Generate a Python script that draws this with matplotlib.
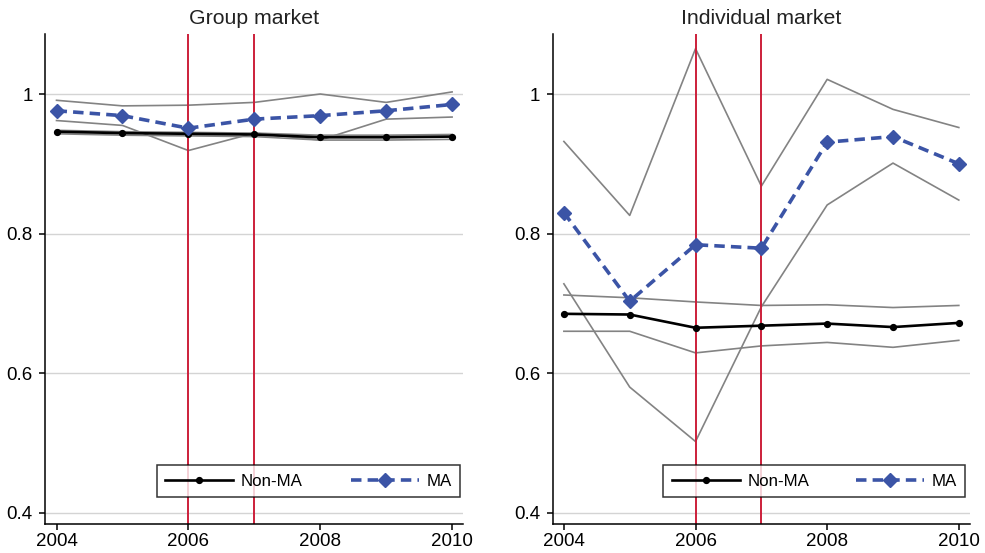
import matplotlib
matplotlib.use("Agg")
import matplotlib.pyplot as plt

plt.rcParams['font.family'] = ['Liberation Sans', 'DejaVu Sans']

years = [2004, 2005, 2006, 2007, 2008, 2009, 2010]
event_years = [2006, 2007]
titles = ["Group market", "Individual market"]

# Group market
grp_nonma = [0.946, 0.944, 0.943, 0.942, 0.938, 0.938, 0.939]
grp_nonma_hi = [0.948, 0.946, 0.945, 0.944, 0.941, 0.941, 0.942]
grp_nonma_lo = [0.943, 0.941, 0.940, 0.939, 0.934, 0.934, 0.935]
grp_ma = [0.976, 0.969, 0.951, 0.964, 0.969, 0.976, 0.985]
grp_ma_hi = [0.991, 0.983, 0.984, 0.988, 1.000, 0.988, 1.003]
grp_ma_lo = [0.962, 0.955, 0.919, 0.944, 0.934, 0.964, 0.967]

# Individual market
ind_nonma = [0.685, 0.684, 0.665, 0.668, 0.671, 0.666, 0.672]
ind_nonma_hi = [0.712, 0.708, 0.702, 0.697, 0.698, 0.694, 0.697]
ind_nonma_lo = [0.660, 0.660, 0.629, 0.639, 0.644, 0.637, 0.647]
ind_ma = [0.830, 0.703, 0.784, 0.779, 0.931, 0.939, 0.900]
ind_ma_hi = [0.932, 0.826, 1.065, 0.868, 1.021, 0.978, 0.952]
ind_ma_lo = [0.728, 0.580, 0.502, 0.695, 0.841, 0.901, 0.848]

yticks = [0.4, 0.6, 0.8, 1.0]
ytick_labels = ["0.4", "0.6", "0.8", "1"]
xticks = [2004, 2006, 2008, 2010]

panels = [
    (grp_nonma, grp_nonma_hi, grp_nonma_lo, grp_ma, grp_ma_hi, grp_ma_lo),
    (ind_nonma, ind_nonma_hi, ind_nonma_lo, ind_ma, ind_ma_hi, ind_ma_lo),
]

BLUE = '#3b54a6'
RED = '#cc1f3a'
GRAY = '#838383'

fig = plt.figure(figsize=(9.85, 5.53), dpi=100)
W, H = 985, 553
axes_px = [(45.3, 463.3), (552.7, 970.0)]
legend_px = [(157, 460), (663.3, 965.3)]
top_px, bot_px = 34, 524

for i, (x0, x1) in enumerate(axes_px):
    ax = fig.add_axes([x0 / W, (H - bot_px) / H, (x1 - x0) / W, (bot_px - top_px) / H])
    nm, nmh, nml, ma, mah, mal = panels[i]
    for s in (nmh, nml, mah, mal):
        ax.plot(years, s, color=GRAY, lw=1.2, zorder=2)
    for ey in event_years:
        ax.axvline(ey, color=RED, lw=1.4, zorder=2.5)
    ax.plot(years, nm, color='black', lw=1.9, marker='o', markersize=4.2,
            zorder=3, label='Non-MA')
    ax.plot(years, ma, color=BLUE, lw=2.6, linestyle=(0, (2.9, 1.7)),
            marker='D', markersize=7.5, zorder=3.5, label='MA')
    ax.set_xlim(2003.83, 2010.17)
    ax.set_ylim(0.3838, 1.086)
    ax.set_yticks(yticks)
    ax.set_yticklabels(ytick_labels)
    ax.set_xticks(xticks)
    ax.yaxis.grid(True, color='#d4d4d4', lw=1.0, zorder=0)
    ax.set_axisbelow(True)
    for sp in ('top', 'right'):
        ax.spines[sp].set_visible(False)
    ax.spines['left'].set_linewidth(1.1)
    ax.spines['bottom'].set_linewidth(1.1)
    ax.tick_params(axis='both', labelsize=13.5, length=4.5, width=1.1, colors='black')
    ax.tick_params(axis='y', pad=4.5)
    ax.tick_params(axis='x', pad=2.0)
    ax.set_title(titles[i], fontsize=15.3, pad=7, color='#222222')
    lx0 = (legend_px[i][0] - x0) / (x1 - x0)
    lx1 = (legend_px[i][1] - x0) / (x1 - x0)
    ly0 = (bot_px - 497) / (bot_px - top_px)
    ly1 = (bot_px - 464) / (bot_px - top_px)
    leg = ax.legend(loc='lower left', bbox_to_anchor=(lx0, ly0, lx1 - lx0, ly1 - ly0),
                    mode='expand', ncol=2, borderaxespad=0, fontsize=12.2,
                    frameon=True, fancybox=False, edgecolor='black',
                    handlelength=4.0, numpoints=1, handletextpad=0.45,
                    borderpad=0.5)
    leg.get_frame().set_linewidth(1.1)
    leg.set_zorder(5)

fig.savefig('out.png', dpi=100, facecolor='white')
